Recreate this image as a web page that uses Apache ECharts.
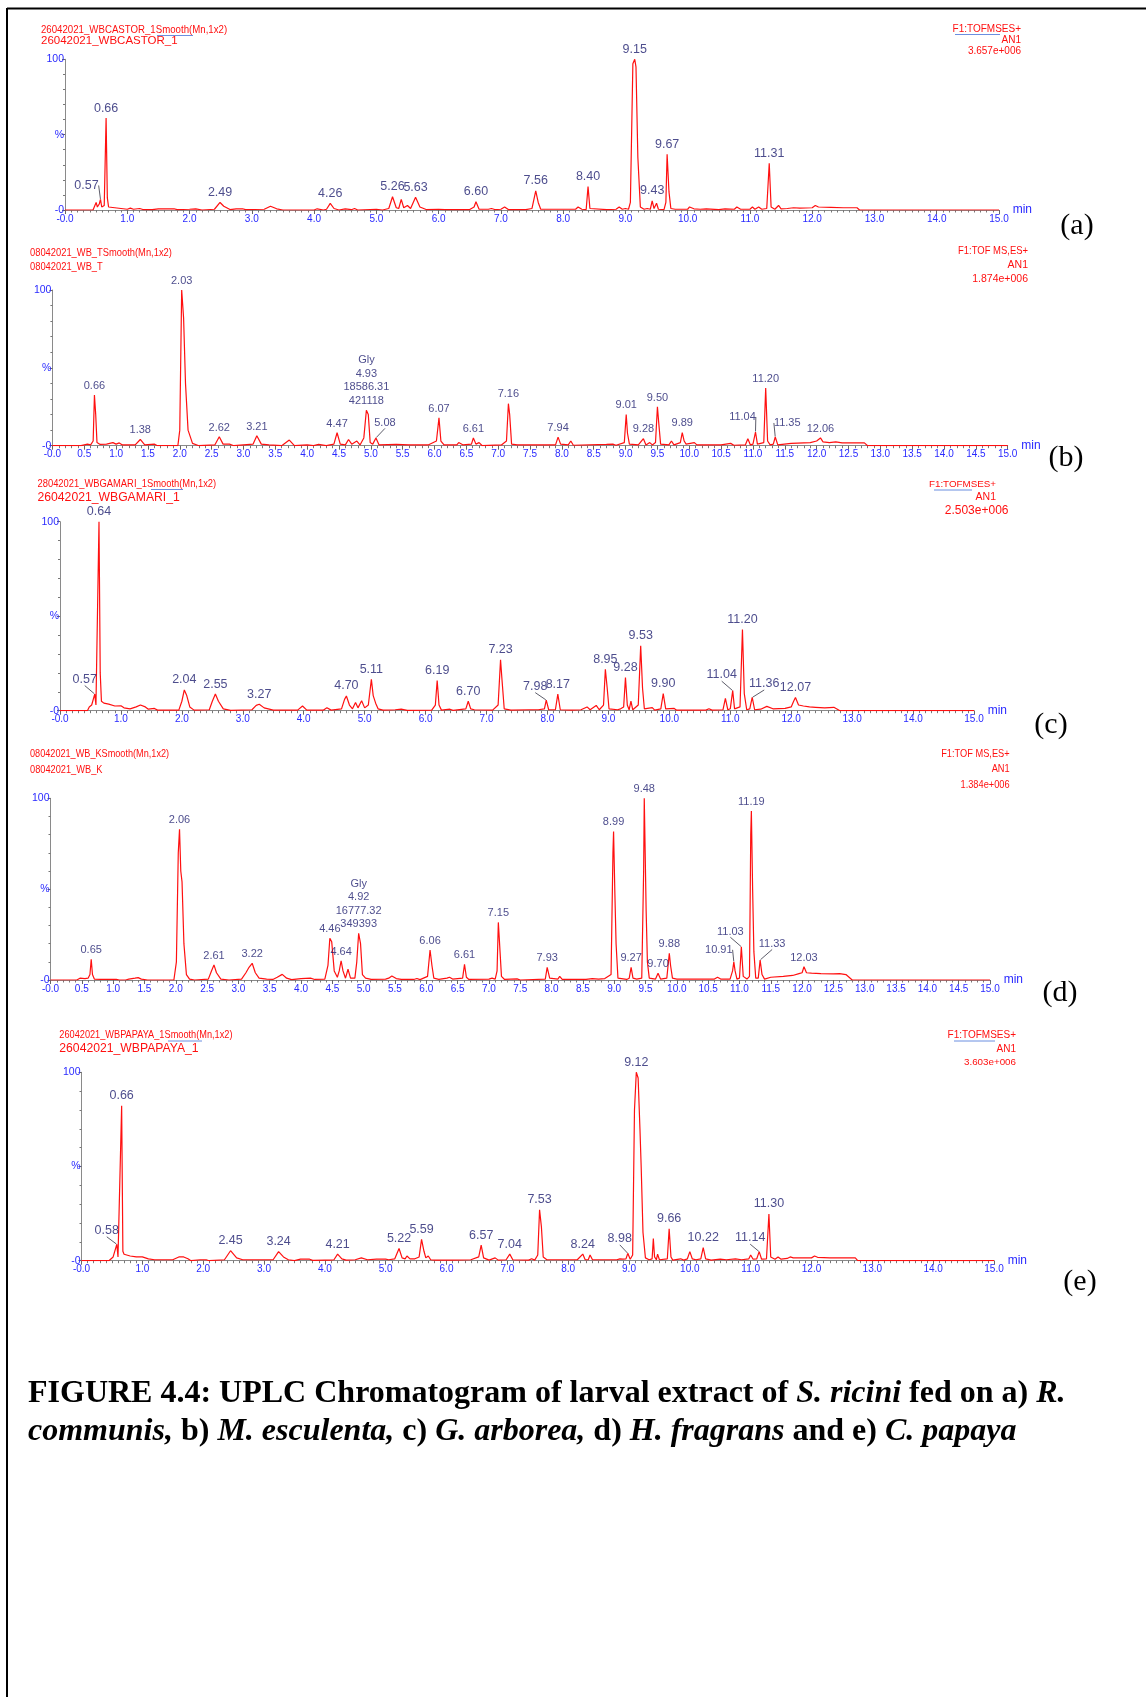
<!DOCTYPE html>
<html>
<head>
<meta charset="utf-8">
<script src="https://cdn.jsdelivr.net/npm/echarts@6/dist/echarts.min.js"></script>
<style>
html,body{margin:0;padding:0;background:#fff;}
#chart{width:1146px;height:1697px;}
</style>
</head>
<body>
<div id="chart"></div>
<script>
// ---------------- DATA ----------------
// Retention time (min) vs relative intensity (%)
const traceA = [[0,0],[0.45,0],[0.48,3],[0.50,5],[0.52,2],[0.55,4],[0.57,7],[0.59,2],[0.63,3],[0.66,61],[0.68,8],[0.70,2],[0.80,1.5],[0.90,1],[1.00,0.5],[1.05,1.2],[1.10,0.5],[1.20,1],[1.25,0.3],[1.40,0.3],[1.50,0.8],[1.75,0.8],[1.80,0.2],[2.00,0.5],[2.10,0.8],[2.20,0],[2.40,0.5],[2.49,5],[2.55,2.5],[2.65,0.3],[2.75,0.8],[2.85,0.8],[2.90,0.2],[3.20,0.5],[3.30,2.5],[3.40,0.8],[3.50,0],[4.00,0],[4.05,0.8],[4.15,0],[4.20,0.5],[4.26,4.4],[4.32,1],[4.40,0],[4.50,0.8],[4.60,0.2],[4.65,1],[4.70,0],[5.00,0.5],[5.10,0],[5.20,1],[5.26,8.8],[5.32,1.5],[5.36,1],[5.40,7],[5.44,1.5],[5.50,3],[5.55,1],[5.63,8.5],[5.70,2],[5.80,0.3],[6.00,0.5],[6.10,0.2],[6.50,0.3],[6.57,2],[6.60,5.5],[6.65,0.5],[6.80,0.5],[6.85,1],[6.90,0.3],[7.00,0.5],[7.06,2],[7.12,0.3],[7.40,0.3],[7.50,1],[7.56,12.7],[7.60,5],[7.64,0.5],[8.20,0.5],[8.24,2],[8.30,0.5],[8.37,0.3],[8.40,15.5],[8.43,1],[8.70,0.2],[8.85,0.5],[8.90,2],[8.95,0.5],[9.00,1],[9.05,0.5],[9.08,5],[9.12,97],[9.15,100],[9.17,95],[9.20,35],[9.24,2],[9.30,0.5],[9.35,1],[9.40,0.5],[9.43,6],[9.46,1],[9.50,4.5],[9.53,0.5],[9.62,0.3],[9.65,5],[9.67,37],[9.70,12],[9.73,1],[9.80,0.5],[10.00,0.5],[10.03,2],[10.10,0.8],[10.20,0.5],[10.30,0.8],[10.50,0.3],[10.60,0.8],[10.75,0.5],[10.79,2],[10.85,0.5],[11.00,0.5],[11.04,2],[11.08,0.5],[11.14,2],[11.19,0.5],[11.27,1],[11.31,31],[11.34,2],[11.40,0.5],[11.46,3],[11.50,0.8],[11.60,1],[11.70,1.5],[11.80,1.2],[12.00,1.5],[12.05,3],[12.10,2],[12.30,1.8],[12.50,1.5],[12.72,1.5],[12.76,0],[15,0]];
const peaksA = [[0.66,61,'0.66'],[2.49,5,'2.49'],[4.26,4.4,'4.26'],[5.26,8.8,'5.26'],[5.63,8.5,'5.63'],[6.60,5.5,'6.60'],[7.56,12.7,'7.56'],[8.40,15.5,'8.40'],[9.15,100,'9.15'],[9.43,6,'9.43'],[9.67,37,'9.67'],[11.31,31,'11.31']];
const leadersA = [[0.57,7,'0.57']];

const traceB = [[0,0],[0.45,0],[0.48,1],[0.55,1],[0.60,0.5],[0.64,3],[0.66,32.5],[0.68,20],[0.70,2],[0.75,0.8],[0.85,1],[0.95,2],[1.00,1],[1.05,1.8],[1.10,0.5],[1.30,0.5],[1.38,4],[1.45,0.5],[1.60,1],[1.65,0],[1.97,0],[2.00,10],[2.03,100],[2.06,82],[2.09,40],[2.13,10],[2.20,1.5],[2.30,0],[2.55,0.5],[2.62,5.7],[2.68,1],[2.78,1],[2.85,0],[3.15,1],[3.21,6.4],[3.28,1],[3.40,0.5],[3.60,0],[3.72,3.6],[3.80,0],[4.00,0.5],[4.10,0],[4.18,0.8],[4.30,0],[4.42,1],[4.47,8.3],[4.52,1],[4.60,0.5],[4.65,4],[4.70,1],[4.78,3],[4.83,0.5],[4.89,5],[4.93,22.8],[4.96,20],[4.99,2],[5.03,1],[5.08,5],[5.13,0.5],[5.40,0.8],[5.60,0.5],[5.90,0.5],[6.03,3],[6.07,17.9],[6.10,3],[6.15,0.5],[6.35,0.5],[6.38,2],[6.45,0.5],[6.58,1],[6.61,5],[6.65,1],[6.70,2],[6.75,0],[7.05,0.5],[7.13,3],[7.16,27],[7.18,20],[7.21,1],[7.30,0.5],[7.90,0.5],[7.94,5.5],[7.98,1],[8.10,0.5],[8.14,3],[8.18,0.3],[8.70,0.8],[8.80,1],[8.85,0.3],[8.98,2],[9.01,20],[9.03,8],[9.06,1],[9.20,0.5],[9.28,4.5],[9.32,0.5],[9.38,2],[9.42,0.5],[9.47,2],[9.50,25],[9.52,15],[9.55,1],[9.68,0.5],[9.72,3],[9.76,0.5],[9.86,2],[9.89,8.4],[9.92,3],[9.95,1],[10.08,2],[10.12,0.5],[10.50,0.5],[10.65,1.5],[10.70,0.3],[10.88,0.5],[10.92,4.5],[10.96,0.5],[11.00,1],[11.04,8.8],[11.07,1],[11.17,2],[11.20,37],[11.23,3],[11.27,0.5],[11.32,1],[11.35,5.6],[11.39,0.5],[11.60,1.5],[11.90,2],[12.00,3],[12.06,5],[12.10,2.5],[12.20,2],[12.30,2.5],[12.40,1.8],[12.75,1.8],[12.80,0],[15,0]];
const peaksB = [[0.66,32.5,'0.66'],[1.38,4,'1.38'],[2.03,100,'2.03'],[2.62,5.7,'2.62'],[3.21,6.4,'3.21'],[4.47,8.3,'4.47'],[4.93,22.8,'Gly\n4.93\n18586.31\n421118'],[6.07,17.9,'6.07'],[6.61,5,'6.61'],[7.16,27,'7.16'],[7.94,5.5,'7.94'],[9.01,20,'9.01'],[9.28,4.5,'9.28'],[9.50,25,'9.50'],[9.89,8.4,'9.89'],[11.20,37,'11.20'],[12.06,5,'12.06']];
const leadersB = [[5.08,5,'5.08'],[11.04,8.8,'11.04'],[11.35,5.6,'11.35']];

const traceC = [[0,0],[0.45,0],[0.48,2],[0.52,3],[0.55,2.5],[0.57,8.8],[0.59,3],[0.62,4],[0.64,100],[0.66,20],[0.68,5],[0.72,4],[0.80,3.5],[0.90,2.5],[1.00,2.6],[1.05,1.5],[1.15,1],[1.25,2],[1.32,3],[1.40,2],[1.45,0.8],[1.55,1.2],[1.60,0.3],[1.95,0.3],[2.00,5],[2.04,11],[2.08,8],[2.13,2],[2.20,0.3],[2.45,0.5],[2.50,5],[2.55,8.8],[2.60,5],[2.68,1],[2.80,0.2],[3.15,0.5],[3.22,2.8],[3.27,3.4],[3.35,1.5],[3.50,0.3],[3.90,0.3],[3.98,2.5],[4.05,0.3],[4.32,0.3],[4.38,1.6],[4.45,0.3],[4.62,1],[4.67,6],[4.70,7.8],[4.75,3],[4.80,1],[4.85,4.4],[4.89,1.5],[4.95,5.3],[5.00,1.5],[5.06,3],[5.11,16.6],[5.14,8],[5.18,4],[5.22,1],[5.30,0.3],[5.50,0.5],[5.60,0.8],[5.70,0.2],[6.10,0.3],[6.16,3],[6.19,16],[6.22,3],[6.26,0.3],[6.40,0.8],[6.45,0.2],[6.66,1],[6.70,5],[6.74,1],[6.80,0.5],[7.10,0.3],[7.19,3],[7.23,27],[7.25,18],[7.29,1],[7.40,0.3],[7.70,0.5],[7.85,0.5],[7.95,1],[7.98,5.6],[8.02,0.5],[8.13,0.5],[8.17,8.8],[8.21,0.5],[8.40,0.3],[8.55,0.5],[8.65,2],[8.70,0.5],[8.80,2.8],[8.85,0.5],[8.92,3],[8.95,21.9],[8.98,12],[9.01,1],[9.15,0.5],[9.20,1],[9.25,2],[9.28,17.6],[9.31,3],[9.34,0.5],[9.37,5],[9.40,0.5],[9.49,3],[9.53,34.4],[9.56,12],[9.59,1],[9.72,1.6],[9.76,0.3],[9.86,1],[9.90,9],[9.94,1],[10.08,1.2],[10.12,0.3],[10.60,0.3],[10.65,1],[10.70,0.3],[10.88,0.5],[10.92,6.5],[10.96,0.5],[11.00,1],[11.04,10.6],[11.07,1],[11.16,2],[11.20,43],[11.23,9],[11.27,0.5],[11.32,1],[11.36,7],[11.40,0.5],[11.50,0.8],[11.60,2.3],[11.70,1],[11.90,1.2],[12.00,2],[12.04,5],[12.07,7],[12.12,3],[12.20,2.5],[12.30,2],[12.40,1.8],[12.55,1.5],[12.70,1.8],[12.80,0],[15,0]];
const peaksC = [[0.64,100,'0.64'],[2.04,11,'2.04'],[2.55,8.8,'2.55'],[3.27,3.4,'3.27'],[4.70,7.8,'4.70'],[5.11,16.6,'5.11'],[6.19,16,'6.19'],[6.70,5,'6.70'],[7.23,27,'7.23'],[8.17,8.8,'8.17'],[8.95,21.9,'8.95'],[9.28,17.6,'9.28'],[9.53,34.4,'9.53'],[9.90,9,'9.90'],[11.20,43,'11.20'],[12.07,7,'12.07']];
const leadersC = [[0.57,8.8,'0.57'],[7.98,5.6,'7.98'],[11.04,10.6,'11.04'],[11.36,7,'11.36']];

const traceD = [[0,0],[0.42,0],[0.47,1],[0.50,1.8],[0.55,0.8],[0.60,1],[0.63,3],[0.65,11.4],[0.67,3],[0.70,0.5],[0.80,0.3],[1.05,0.3],[1.10,0],[1.20,0],[1.25,0.5],[1.35,1],[1.40,1.3],[1.45,0.5],[1.55,0],[1.97,0],[2.01,10],[2.04,70],[2.06,83],[2.08,60],[2.10,54],[2.13,20],[2.17,3],[2.22,0.5],[2.30,0],[2.52,0.5],[2.57,5],[2.61,8.3],[2.65,4],[2.72,0.5],[2.85,0],[3.05,0.5],[3.12,4],[3.17,7],[3.20,8],[3.22,9.2],[3.27,4],[3.33,1],[3.45,0.5],[3.55,0.3],[3.62,1.5],[3.70,3.1],[3.77,1],[3.85,0.2],[4.00,0.8],[4.15,1],[4.22,0.3],[4.38,0.5],[4.43,8],[4.46,23],[4.49,21],[4.53,5],[4.58,1.5],[4.61,5],[4.64,10.6],[4.67,5],[4.71,1],[4.75,5.9],[4.79,1],[4.86,1],[4.89,10],[4.92,25.7],[4.95,20],[4.98,3],[5.03,1],[5.06,2],[5.12,0.3],[5.35,0.5],[5.40,1],[5.45,2.2],[5.52,0.8],[5.60,0.3],[5.80,0.3],[5.85,0.8],[5.90,0.2],[6.02,2],[6.06,16.5],[6.09,8],[6.12,1],[6.20,0.3],[6.33,1],[6.37,1.5],[6.42,0.5],[6.58,1],[6.61,8.6],[6.64,1.5],[6.68,0.3],[7.00,0.5],[7.05,1],[7.10,0.5],[7.13,5],[7.15,31.7],[7.17,20],[7.20,2],[7.25,0.3],[7.45,0.6],[7.50,0],[7.90,0.5],[7.93,7],[7.97,1],[8.10,0.5],[8.13,2],[8.17,0.3],[8.55,0.3],[8.65,0.8],[8.75,0.5],[8.85,0.8],[8.95,3],[8.98,70],[8.99,81.7],[9.01,48.6],[9.03,20],[9.06,1],[9.20,0.3],[9.24,1],[9.27,7],[9.30,1],[9.36,0.5],[9.44,1],[9.47,60],[9.48,100],[9.51,38],[9.53,10],[9.56,1],[9.66,0.5],[9.70,3.7],[9.74,0.5],[9.84,1],[9.86,8],[9.88,14.7],[9.90,8],[9.93,1],[10.00,0.5],[10.20,0.5],[10.40,0.5],[10.60,0.5],[10.65,1.5],[10.70,0.5],[10.85,0.5],[10.89,5],[10.91,10],[10.93,5],[10.96,0.5],[11.00,1],[11.03,18.3],[11.06,2],[11.12,0.5],[11.16,2],[11.18,80],[11.19,93],[11.21,50],[11.23,15.6],[11.26,1],[11.30,1],[11.33,11],[11.36,3],[11.40,0.5],[11.50,1.5],[11.70,2],[11.85,2.5],[11.95,3.5],[12.00,4],[12.03,7.3],[12.07,4],[12.15,3.8],[12.30,3.5],[12.50,3.4],[12.60,3.5],[12.70,3],[12.80,0],[15,0]];
const peaksD = [[0.65,11.4,'0.65'],[2.06,83,'2.06'],[2.61,8.3,'2.61'],[3.22,9.2,'3.22'],[4.46,23,'4.46'],[4.64,10.6,'4.64'],[4.92,25.7,'Gly\n4.92\n16777.32\n349393'],[6.06,16.5,'6.06'],[6.61,8.6,'6.61'],[7.15,31.7,'7.15'],[7.93,7,'7.93'],[8.99,81.7,'8.99'],[9.27,7,'9.27'],[9.48,100,'9.48'],[9.70,3.7,'9.70'],[9.88,14.7,'9.88'],[11.19,93,'11.19'],[12.03,7.3,'12.03']];
const leadersD = [[10.91,10,'10.91'],[11.03,18.3,'11.03'],[11.33,11,'11.33']];

const traceE = [[0,0],[0.45,0],[0.48,1],[0.52,2],[0.55,1.5],[0.58,8.7],[0.60,2],[0.63,2],[0.66,82.3],[0.68,5],[0.70,3.4],[0.80,2.5],[0.90,2],[1.00,2],[1.05,1.5],[1.10,1],[1.20,0.5],[1.50,0.5],[1.60,2],[1.68,2],[1.75,1],[1.80,0],[1.95,0.5],[2.05,0.5],[2.10,0],[2.35,0.5],[2.45,5.3],[2.55,1.5],[2.65,0.5],[2.80,0.5],[2.82,0],[3.15,0.5],[3.24,4.8],[3.32,2],[3.40,0.5],[3.50,0],[3.60,0.8],[3.75,0.8],[3.80,0.2],[4.00,0.3],[4.03,1],[4.08,0.3],[4.15,0.5],[4.21,3.5],[4.28,1],[4.35,0.3],[4.50,0.5],[4.60,1.5],[4.70,0.5],[4.85,0.8],[5.00,0.8],[5.05,0.5],[5.15,1],[5.22,6.5],[5.27,1.5],[5.32,1],[5.35,2.5],[5.40,1],[5.48,1],[5.55,2],[5.59,11.3],[5.63,5],[5.66,1.5],[5.70,2.5],[5.74,0.5],[5.80,0.3],[6.10,0.3],[6.40,0.5],[6.53,2],[6.57,8.3],[6.61,1.5],[6.70,0.3],[6.80,1.5],[6.85,0.3],[6.98,0.5],[7.04,3.5],[7.09,0.5],[7.35,0.3],[7.40,1],[7.45,0.3],[7.50,3],[7.53,27],[7.56,18],[7.59,2],[7.65,0.5],[8.15,0.5],[8.24,3.5],[8.28,0.5],[8.33,0.5],[8.36,3],[8.40,0.5],[8.80,0.5],[8.85,1],[8.90,0.8],[8.95,1],[8.98,3.9],[9.02,0.8],[9.06,3],[9.09,80],[9.12,100],[9.15,97],[9.18,70],[9.20,50],[9.23,15],[9.27,1.5],[9.33,0.5],[9.38,1],[9.40,11.7],[9.42,2],[9.45,0.5],[9.47,3.5],[9.50,0.5],[9.63,1],[9.66,17],[9.69,2],[9.72,0.3],[9.85,1],[9.90,0.3],[9.96,1],[10.00,4.8],[10.04,1],[10.10,0.5],[10.18,1],[10.22,7],[10.26,1],[10.35,0.3],[10.50,0.8],[10.60,0.5],[10.75,1],[10.85,0.5],[10.97,1],[11.00,3],[11.04,0.8],[11.10,1],[11.14,4.8],[11.18,0.8],[11.26,1],[11.30,24.8],[11.33,2],[11.40,0.8],[11.45,2],[11.50,0.8],[11.60,1.2],[11.65,2],[11.70,1.5],[12.00,1.5],[12.05,2.5],[12.10,1.8],[12.30,1.5],[12.60,1.5],[12.72,1.5],[12.76,0],[15,0]];
const peaksE = [[0.66,82.3,'0.66'],[2.45,5.3,'2.45'],[3.24,4.8,'3.24'],[4.21,3.5,'4.21'],[5.22,6.5,'5.22'],[5.59,11.3,'5.59'],[6.57,8.3,'6.57'],[7.04,3.5,'7.04'],[7.53,27,'7.53'],[8.24,3.5,'8.24'],[9.12,100,'9.12'],[9.66,17,'9.66'],[10.22,7,'10.22'],[11.30,24.8,'11.30']];
const leadersE = [[0.58,8.7,'0.58'],[8.98,3.9,'8.98'],[11.14,4.8,'11.14']];

const titles1 = ['26042021_WBCASTOR_1Smooth(Mn,1x2)','08042021_WB_TSmooth(Mn,1x2)','28042021_WBGAMARI_1Smooth(Mn,1x2)','08042021_WB_KSmooth(Mn,1x2)','26042021_WBPAPAYA_1Smooth(Mn,1x2)'];
const titles2 = ['26042021_WBCASTOR_1','08042021_WB_T','26042021_WBGAMARI_1','08042021_WB_K','26042021_WBPAPAYA_1'];
const scanLabels = ['F1:TOFMSES+','F1:TOF MS,ES+','F1:TOFMSES+','F1:TOF MS,ES+','F1:TOFMSES+'];
const intensityMax = ['3.657e+006','1.874e+006','2.503e+006','1.384e+006','3.603e+006'];
const panelTags = ['(a)','(b)','(c)','(d)','(e)'];
const xTickStep = [1, 0.5, 1, 0.5, 1];

// ---------------- LAYOUT / STYLE ----------------
const RED = '#ff1010', BLUE = '#2a2aff', NAVY = '#202070', AXIS = '#8a8a8a';
const SANS = '"Liberation Sans", Arial, sans-serif';
const SERIF = '"Liberation Serif", "Times New Roman", serif';
const layout = [
  {left:65,  width:934,   top:59.3,  height:150.7, peakFont:12.5, t1:[41,30,11.5,0.84], t2:[41,41,11.5,1], rx:1021, ry:[29.5,40.5,51.7], rf:[10,10,10], tag:[1077,226]},
  {left:52.4,width:955.3, top:290,   height:155.7, peakFont:11,   t1:[30,252.5,11,0.85], t2:[30,266.5,11,0.85], rx:1028, ry:[251.5,265.5,279.5], rf:[10.5,10.5,10.5], tag:[1066,458]},
  {left:60,  width:914,   top:521.7, height:189,   peakFont:12.5, t1:[37.5,484,11.5,0.815], t2:[37.5,497.5,12.2,1], rx:996, ry:[484,497,511], rf:[9.8,10.5,12], rx3:1008.5, tag:[1051,725]},
  {left:50.5,width:939.5, top:798.3, height:181.7, peakFont:11,   t1:[30,754,11,0.83], t2:[30,769.5,11,0.84], rx:1009.6, ry:[754,769.3,785], rf:[10.5,10.5,10.5], rsx:0.88, tag:[1060,993]},
  {left:81.5,width:912.5, top:1072.3,height:188.4, peakFont:12.5, t1:[59.3,1035,11.5,0.80], t2:[59.3,1049,12.2,1], rx:1016, ry:[1035,1049.3,1062.7], rf:[10,10,9.8], tag:[1080,1282]}
];
const leaderOffsets = [
  [[-14,-5]],
  [[9,-7],[-13,-7],[12,-6]],
  [[-10,-6],[-11,-5],[-11,-7],[12,-5]],
  [[-15,-4],[-11,-7],[12,-8]],
  [[-10,-5],[-8,-6],[-9,-5]]
];
const traces = [traceA, traceB, traceC, traceD, traceE];
const peaks = [peaksA, peaksB, peaksC, peaksD, peaksE];
const leaders = [leadersA, leadersB, leadersC, leadersD, leadersE];

// ---------------- BUILD ----------------
const grids = [], xAxes = [], yAxes = [], series = [], graphics = [];

function txt(x, y, text, size, color, align, sx, font) {
  return {type:'text', x:x, y:y, scaleX: sx || 1, originX:0, originY:0, silent:true,
    style:{text:text, fill:color, font: size + 'px ' + (font || SANS), align: align || 'left', verticalAlign:'middle'}};
}
function hline(x1, x2, y, color, w) {
  return {type:'line', silent:true, shape:{x1:x1, y1:y, x2:x2, y2:y}, style:{stroke:color, lineWidth:w}};
}

layout.forEach((L, i) => {
  grids.push({left:L.left, width:L.width, top:L.top, height:L.height, containLabel:false});
  const step = xTickStep[i];
  xAxes.push({
    gridIndex:i, type:'value', min:0, max:15, interval:step,
    axisLine:{show:true, lineStyle:{color:AXIS, width:1}},
    axisTick:{show:true, length:4, lineStyle:{color:'#666'}},
    minorTick:{show:true, splitNumber: step === 1 ? 10 : 5, length:2.5, lineStyle:{color:'#777'}},
    splitLine:{show:false}, minorSplitLine:{show:false},
    axisLabel:{color:BLUE, fontSize:10, fontFamily:SANS, margin:4, showMinLabel:true, showMaxLabel:true,
      formatter: v => v === 0 ? '-0.0' : v.toFixed(1)},
    name:'min', nameLocation:'end', nameGap:-5,
    nameTextStyle:{color:BLUE, fontSize:12, fontFamily:SANS, verticalAlign:'middle', padding:[4,0,0,0]}
  });
  yAxes.push({
    gridIndex:i, type:'value', min:0, max:100, interval:50,
    axisLine:{show:true, lineStyle:{color:AXIS, width:1}},
    axisTick:{show:true, length:3, lineStyle:{color:'#666'}},
    minorTick:{show:true, splitNumber:5, length:2, lineStyle:{color:'#777'}},
    splitLine:{show:false}, minorSplitLine:{show:false},
    axisLabel:{color:BLUE, fontSize:10.5, fontFamily:SANS, margin:1,
      formatter: v => v === 100 ? '100' : (v === 50 ? '%' : '-0')}
  });
  series.push({
    type:'line', xAxisIndex:i, yAxisIndex:i, data:traces[i], symbol:'none', showSymbol:false,
    lineStyle:{color:RED, width:1.2}, itemStyle:{color:RED}, animation:false, z:3
  });
  series.push({
    type:'scatter', xAxisIndex:i, yAxisIndex:i, symbolSize:1, itemStyle:{color:'rgba(0,0,0,0)'},
    data: peaks[i].map(p => ({value:[p[0], p[1]], name:p[2]})),
    label:{show:true, position:'top', distance:2, formatter: p => p.name, color:NAVY,
      fontSize:L.peakFont, fontFamily:SANS, lineHeight:L.peakFont + 2.5, align:'center'},
    animation:false, silent:true, z:4
  });
  const offs = leaderOffsets[i];
  series.push({
    type:'scatter', xAxisIndex:i, yAxisIndex:i, symbolSize:1, itemStyle:{color:'rgba(0,0,0,0)'},
    data: leaders[i].map(p => ({value:[p[0], p[1]], name:p[2]})),
    label:{show:true, position:'top', distance:2, formatter: p => p.name, color:NAVY,
      fontSize:L.peakFont, fontFamily:SANS},
    labelLine:{show:true, lineStyle:{color:'#334', width:0.8}},
    labelLayout: params => ({dx: offs[params.dataIndex][0], dy: offs[params.dataIndex][1]}),
    animation:false, silent:true, z:4
  });

  // titles & header texts
  graphics.push(txt(L.t1[0], L.t1[1], titles1[i], L.t1[2], RED, 'left', L.t1[3]));
  graphics.push(txt(L.t2[0], L.t2[1], titles2[i], L.t2[2], RED, 'left', L.t2[3]));
  const rsx = L.rsx || (scanLabels[i].indexOf(' ') > 0 ? 0.9 : 1);
  graphics.push(txt(L.rx, L.ry[0], scanLabels[i], L.rf[0], RED, 'right', rsx));
  graphics.push(txt(L.rx, L.ry[1], 'AN1', L.rf[1], RED, 'right', L.rsx || 1));
  graphics.push(txt(L.rx3 || L.rx, L.ry[2], intensityMax[i], L.rf[2], RED, 'right', L.rsx || 1));
  graphics.push(txt(L.tag[0], L.tag[1], panelTags[i], 30, '#000', 'center', 1, SERIF));
});

// decorative underlines (from original screenshot)
graphics.push(hline(157, 193, 35.5, '#6b8ee0', 1));
graphics.push(hline(955, 1000, 34.5, '#6b8ee0', 1));
graphics.push(hline(151, 183, 489.5, '#6b8ee0', 1));
graphics.push(hline(934, 972, 490, '#6b8ee0', 1));
graphics.push(hline(168, 202, 1041, '#6b8ee0', 1));
graphics.push(hline(954, 995, 1041, '#6b8ee0', 1));

// page frame
graphics.push({type:'line', silent:true, shape:{x1:7, y1:8.5, x2:1146, y2:8.5}, style:{stroke:'#000', lineWidth:2}});
graphics.push({type:'line', silent:true, shape:{x1:7, y1:8, x2:7, y2:1697}, style:{stroke:'#000', lineWidth:2}});

// caption
const capRich = {
  b:{font:'bold 32px ' + SERIF, fill:'#000'},
  bi:{font:'italic bold 32px ' + SERIF, fill:'#000'}
};
graphics.push({type:'text', x:28, y:1394, silent:true, style:{
  text:'{b|FIGURE 4.4: UPLC Chromatogram of larval extract of }{bi|S. ricini}{b| fed on a) }{bi|R.}',
  rich:capRich, verticalAlign:'middle', align:'left'}});
graphics.push({type:'text', x:28, y:1432, silent:true, style:{
  text:'{bi|communis,}{b| b) }{bi|M. esculenta,}{b| c) }{bi|G. arborea,}{b| d) }{bi|H. fragrans}{b| and e) }{bi|C. papaya}',
  rich:capRich, verticalAlign:'middle', align:'left'}});

const chart = echarts.init(document.getElementById('chart'), null, {renderer:'canvas'});
chart.setOption({
  animation:false,
  backgroundColor:'#ffffff',
  grid:grids, xAxis:xAxes, yAxis:yAxes, series:series, graphic:graphics
});
</script>
</body>
</html>
